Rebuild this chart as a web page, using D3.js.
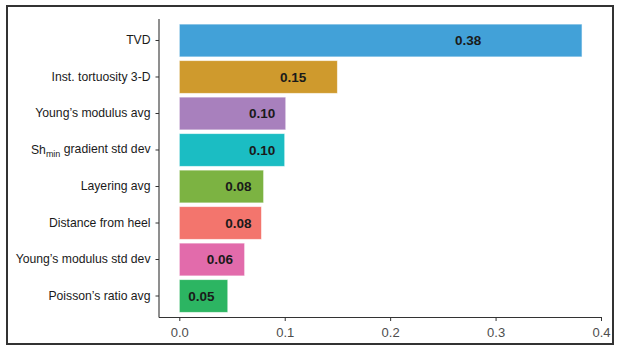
<!DOCTYPE html>
<html>
<head>
<meta charset="utf-8">
<script src="https://cdn.jsdelivr.net/npm/d3@7"></script>
<style>
  body { margin: 0; background: white; }
  text { font-family: "Liberation Sans", Arial, sans-serif; }
</style>
</head>
<body>
<div id="chart"></div>
<script>
var features = ["TVD", "Inst. tortuosity 3-D", "Young\u2019s modulus avg", "Shmin gradient std dev",
  "Layering avg", "Distance from heel", "Young\u2019s modulus std dev", "Poisson\u2019s ratio avg"];
var importance = [0.382, 0.150, 0.101, 0.100, 0.080, 0.078, 0.062, 0.046];
var valueLabels = ["0.38", "0.15", "0.10", "0.10", "0.08", "0.08", "0.06", "0.05"];
// where the printed numbers sit along the value axis
var labelAt = [0.274, 0.108, 0.0785, 0.0785, 0.056, 0.056, 0.0386, 0.021];
var barColors = ["#42a1d8", "#cf9a2d", "#a880bd", "#1bbdc3", "#7cb342", "#f3756d", "#e26bab", "#2cb562"];
var xTicks = [0.0, 0.1, 0.2, 0.3, 0.4];

var W = 620, H = 352;
var svg = d3.select("#chart").append("svg")
  .attr("width", W)
  .attr("height", H);

svg.append("rect")
  .attr("x", 7).attr("y", 6)
  .attr("width", 606).attr("height", 338)
  .attr("fill", "white")
  .attr("stroke", "#333")
  .attr("stroke-width", 2);

var plotLeft = 159, plotRight = 602, plotTop = 19, plotBottom = 317.5;

var x = d3.scaleLinear()
  .domain([0, 0.4])
  .range([179.3, 601]);

var y = d3.scaleBand()
  .domain(features)
  .range([plotTop, plotBottom])
  .paddingInner(0.1)
  .paddingOuter(0.139);

svg.selectAll("rect.bar")
  .data(features)
  .enter().append("rect")
  .attr("class", "bar")
  .attr("x", x(0))
  .attr("y", d => y(d))
  .attr("width", (d, i) => x(importance[i]) - x(0))
  .attr("height", y.bandwidth())
  .attr("fill", (d, i) => barColors[i])
  .attr("stroke", "white")
  .attr("stroke-opacity", 0.6)
  .attr("stroke-width", 1);

svg.selectAll("text.val")
  .data(features)
  .enter().append("text")
  .attr("class", "val")
  .attr("x", (d, i) => x(labelAt[i]))
  .attr("y", d => y(d) + y.bandwidth() / 2)
  .attr("dy", "0.36em")
  .attr("text-anchor", "middle")
  .style("font-size", "13.5px")
  .style("font-weight", "bold")
  .attr("fill", "#1a1a1a")
  .text((d, i) => valueLabels[i]);

// axes lines
svg.append("line")
  .attr("x1", plotLeft).attr("x2", plotLeft)
  .attr("y1", plotTop).attr("y2", plotBottom)
  .attr("stroke", "#333").attr("stroke-width", 1.1);
svg.append("line")
  .attr("x1", plotLeft).attr("x2", plotRight)
  .attr("y1", plotBottom).attr("y2", plotBottom)
  .attr("stroke", "#333").attr("stroke-width", 1.1);

var xAxis = svg.append("g")
  .attr("transform", "translate(0," + plotBottom + ")")
  .call(d3.axisBottom(x).tickValues(xTicks).tickFormat(d3.format(".1f")).tickSize(3.5));
xAxis.select(".domain").remove();
xAxis.selectAll("line").attr("stroke", "#333");
xAxis.selectAll("text")
  .attr("y", 10)
  .style("font-size", "13px")
  .style("font-family", "'Liberation Sans', Arial, sans-serif")
  .attr("fill", "#4d4d4d");

var yAxis = svg.append("g")
  .attr("transform", "translate(" + plotLeft + ",0)")
  .call(d3.axisLeft(y).tickSize(3.5).tickPadding(5));
yAxis.select(".domain").remove();
yAxis.selectAll("line").attr("stroke", "#333");
yAxis.selectAll("text")
  .style("font-size", "12.2px")
  .style("font-family", "'Liberation Sans', Arial, sans-serif")
  .attr("fill", "#1a1a1a")
  .each(function (d) {
    if (d.indexOf("Shmin") === 0) {
      var t = d3.select(this).text("");
      t.append("tspan").text("Sh");
      t.append("tspan").attr("dy", "0.3em").style("font-size", "9px").text("min");
      t.append("tspan").attr("dy", "-0.3em").text(d.slice(5));
    }
  });
</script>
</body>
</html>
